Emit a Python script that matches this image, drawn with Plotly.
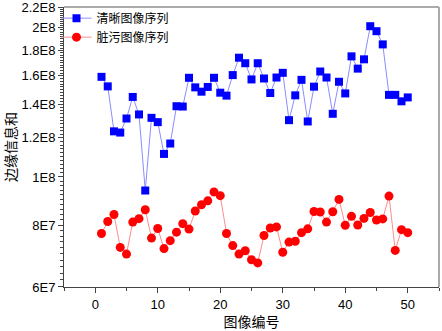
import numpy as np
import plotly.graph_objects as go

x_idx = list(range(1, 51))
clear_vals = [1.592, 1.523, 1.236, 1.229, 1.312, 1.450, 1.337, 0.939, 1.316, 1.290,
              1.113, 1.168, 1.389, 1.387, 1.585, 1.516, 1.486, 1.519, 1.585, 1.479,
              1.459, 1.605, 1.740, 1.696, 1.573, 1.696, 1.580, 1.477, 1.587, 1.622,
              1.302, 1.461, 1.570, 1.294, 1.521, 1.632, 1.587, 1.341, 1.556, 1.474,
              1.751, 1.654, 1.727, 2.014, 1.968, 1.851, 1.464, 1.464, 1.421, 1.447]
dirty_vals = [7.69, 8.13, 8.40, 7.21, 6.99, 8.11, 8.24, 8.59, 7.53, 7.87,
              7.17, 7.44, 7.74, 8.05, 7.85, 8.54, 8.79, 8.95, 9.33, 9.17,
              7.69, 7.27, 6.99, 7.10, 6.81, 6.71, 7.62, 7.89, 7.93, 7.05,
              7.39, 7.42, 7.72, 7.86, 8.52, 8.50, 8.11, 8.51, 9.01, 7.99,
              8.33, 8.00, 8.25, 8.48, 8.19, 8.23, 9.15, 7.11, 7.83, 7.72]
clear_series = [v * 1e8 for v in clear_vals]
dirty_series = [v * 1e7 for v in dirty_vals]

y_tickvals = [6e7, 8e7, 1e8, 1.2e8, 1.4e8, 1.6e8, 1.8e8, 2e8, 2.2e8]
y_ticktext = ["6E7", "8E7", "1E8", "1.2E8", "1.4E8", "1.6E8", "1.8E8", "2E8", "2.2E8"]
y_minor = [v * 1e6 for v in range(60, 222, 2)]

cjk = "Noto Sans CJK SC"
tickfont = dict(family="Liberation Sans, Arial", size=13, color="#000")

fig = go.Figure()
fig.add_trace(go.Scatter(
    x=x_idx, y=clear_series, mode="lines+markers", name="清晰图像序列",
    line=dict(color="#8c8cff", width=1),
    marker=dict(symbol="square", size=8, color="#0000ff"),
))
fig.add_trace(go.Scatter(
    x=x_idx, y=dirty_series, mode="lines+markers", name="脏污图像序列",
    line=dict(color="#ff8c8c", width=1),
    marker=dict(symbol="circle", size=9, color="#ff0000"),
))

fig.update_layout(
    width=442, height=331,
    margin=dict(l=64, r=3, t=7, b=44),
    paper_bgcolor="white", plot_bgcolor="white",
    showlegend=True,
    legend=dict(x=-0.02, y=1.012, xanchor="left", yanchor="top",
                font=dict(family="Liberation Sans, " + cjk, size=12, color="#000"),
                bgcolor="rgba(0,0,0,0)", tracegroupgap=0, itemwidth=30),
    xaxis=dict(
        range=[-5, 55], tickmode="array", tickvals=[0, 10, 20, 30, 40, 50],
        ticks="outside", ticklen=5, tickcolor="#444", tickwidth=1,
        showline=True, linecolor="#444", linewidth=1, showgrid=False, zeroline=False,
        tickfont=tickfont, automargin=False, ticklabeloverflow="allow",
        minor=dict(tickvals=[-5, 5, 15, 25, 35, 45, 55], ticks="outside", ticklen=3,
                   tickcolor="#444", showgrid=False),
        title=dict(text="图像编号", font=dict(family=cjk, size=14, color="#000"), standoff=6),
    ),
    yaxis=dict(
        type="log", range=[np.log10(5.999e7), np.log10(2.202e8)],
        tickmode="array", tickvals=y_tickvals, ticktext=y_ticktext,
        ticks="outside", ticklen=5, tickcolor="#444", tickwidth=1,
        showline=True, linecolor="#444", linewidth=1, showgrid=False, zeroline=False,
        tickfont=tickfont, automargin=False, ticklabeloverflow="allow",
        minor=dict(tickvals=y_minor, ticks="outside", ticklen=3, tickcolor="#444", showgrid=False),
        title=dict(text="边缘信息和", font=dict(family=cjk, size=14, color="#000"), standoff=4),
    ),
    shapes=[
        dict(type="line", xref="paper", yref="paper", x0=0, x1=1, y0=1, y1=1,
             line=dict(color="#aaaaaa", width=2)),
        dict(type="line", xref="paper", yref="paper", x0=1, x1=1, y0=0, y1=1,
             line=dict(color="#aaaaaa", width=2)),
    ],
)

# remove the default 8px page margin so the figure fills the window exactly
fig.write_html("out.html", config={"displayModeBar": False},
               post_script="document.body.style.margin='0';document.body.style.overflow='hidden';")
